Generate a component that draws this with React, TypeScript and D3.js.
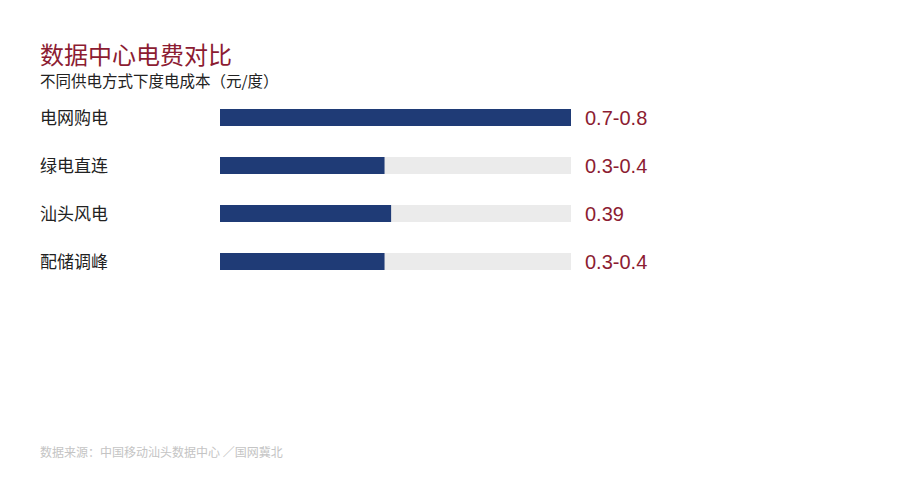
import React from 'react'
import * as d3 from 'd3'

const categories = ['电网购电', '绿电直连', '汕头风电', '配储调峰']
const values = [0.8, 0.375, 0.39, 0.375]
const valueLabels = ['0.7-0.8', '0.3-0.4', '0.39', '0.3-0.4']
const maxValue = 0.8

const title = '数据中心电费对比'
const subtitle = '不同供电方式下度电成本（元/度）'
const source = '数据来源：中国移动汕头数据中心 ／国网冀北'

const cjk = '"Noto Sans CJK SC", "Noto Sans", sans-serif'
const red = '#8c1c32'
const navy = '#1f3b76'

const App = () => {
	const width = 900,
		height = 500

	const x = d3.scaleLinear().domain([0, maxValue]).range([220, 571])
	const y = d3
		.scaleBand()
		.domain(categories)
		.range([100, 279])
		.paddingInner(0.646)
		.paddingOuter(0.1875)

	return (
		<svg
			width={width}
			height={height}
			style={{ position: 'absolute', left: 0, top: 0, background: '#fff' }}
		>
			<text x={40} y={64} fill={red} fontSize={24} fontFamily={cjk}>
				{title}
			</text>
			<text x={40} y={87} fill="#222" fontSize={15.5} fontFamily={cjk}>
				{subtitle}
			</text>
			{categories.map((c, i) => {
				const yy = y(c)!
				const mid = yy + y.bandwidth() / 2
				return (
					<g key={c}>
						<text
							x={40}
							y={mid}
							dy="0.36em"
							fill="#222"
							fontSize={17}
							fontFamily={cjk}
						>
							{c}
						</text>
						<rect
							x={x(0)}
							y={yy}
							width={x(maxValue) - x(0)}
							height={y.bandwidth()}
							fill="#ebebeb"
						/>
						<rect
							x={x(0)}
							y={yy}
							width={x(values[i]) - x(0)}
							height={y.bandwidth()}
							fill={navy}
						/>
						<text
							x={585}
							y={mid}
							dy="0.36em"
							fill={red}
							fontSize={20}
							fontFamily='"Liberation Sans", Arial, sans-serif'
						>
							{valueLabels[i]}
						</text>
					</g>
				)
			})}
			<text x={40} y={457} fill="#c4c4c4" fontSize={12} fontFamily={cjk}>
				{source}
			</text>
		</svg>
	)
}

export default App
